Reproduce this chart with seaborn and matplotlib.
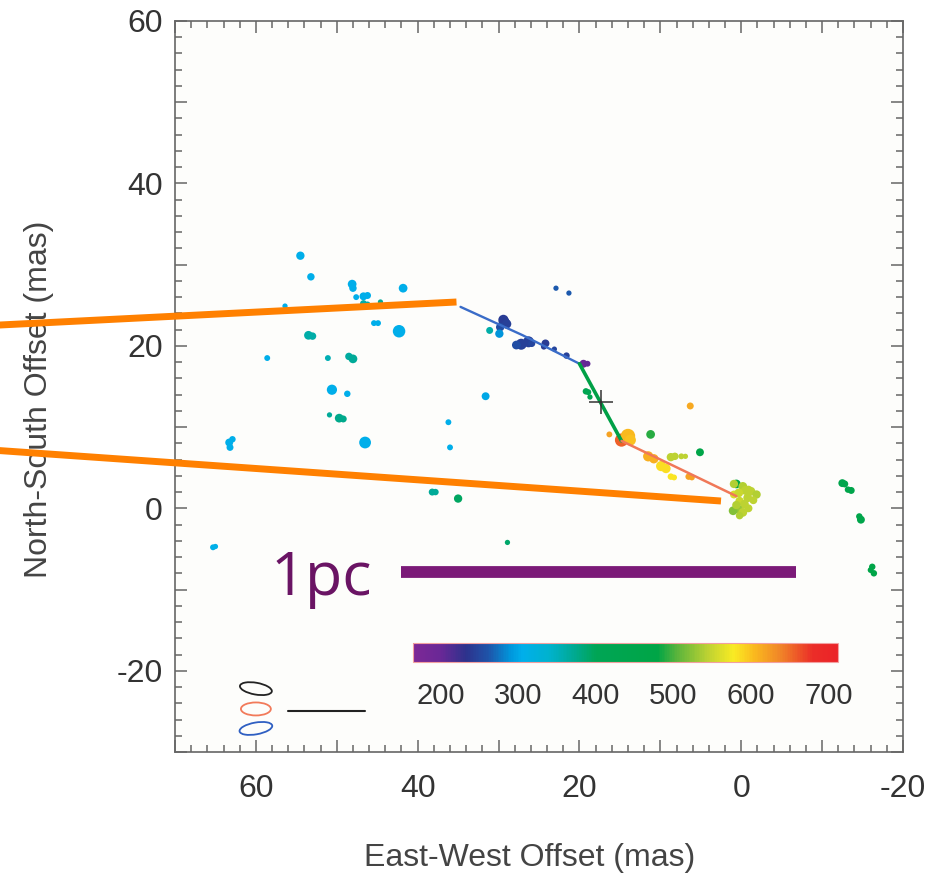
import numpy as np
import pandas as pd
import matplotlib
matplotlib.use("Agg")
import matplotlib.pyplot as plt
import seaborn as sns
from matplotlib.colors import LinearSegmentedColormap, Normalize
from matplotlib.cm import ScalarMappable
from matplotlib.patches import Ellipse
from matplotlib.ticker import MultipleLocator, FuncFormatter

# ---------------- data ----------------
# maser spots: east-west offset (mas), north-south offset (mas), velocity (km/s), marker size
spot_x = [54.5, 53.2, 48.1, 48.0, 47.6, 46.7, 46.2, 46.7, 46.2, 44.6, 41.8, 56.4,
          45.4, 44.9, 42.3, 53.5, 53.0, 58.6, 51.1, 48.5, 48.0, 50.6, 48.7, 50.9,
          49.7, 49.2, 46.5, 63.3, 62.9, 63.2, 31.6, 36.2, 36.0, 38.2, 37.8, 35.0,
          31.1, 65.3, 65.0, 28.9, 22.9, 21.3,
          29.3, 29.4, 29.0, 29.8, 29.9, 27.2, 26.3, 27.8, 25.9, 24.2, 24.4, 23.1,
          21.6, 19.5, 19.0,
          19.2, 18.9, 18.7,
          14.8, 14.0, 13.7, 16.3, 11.2, 6.3, 11.5, 10.8, 9.9, 9.3, 8.7, 8.2, 7.4,
          6.9, 5.1, 8.7, 8.3, 6.5, 6.1,
          0.6, -0.2, -1.2, -1.9, -0.8, 0.2, -0.4, 0.4, 1.0, -0.2, 0.9, 0.9, -0.9,
          -0.5, 0.3, -1.5, 0.6, -0.9, 0.2,
          -12.5, -12.8, -13.6, -13.2, -14.8, -14.6, -16.2, -16.4, -16.0]
spot_y = [31.1, 28.5, 27.6, 27.1, 26.0, 26.1, 26.2, 25.2, 25.1, 25.4, 27.1, 24.9,
          22.8, 22.8, 21.8, 21.3, 21.2, 18.5, 18.5, 18.7, 18.4, 14.6, 14.1, 11.5,
          11.1, 11.0, 8.1, 8.1, 8.5, 7.5, 13.8, 10.6, 7.5, 2.0, 2.0, 1.2,
          21.9, -4.8, -4.7, -4.2, 27.1, 26.5,
          22.9, 23.2, 22.7, 22.3, 21.5, 20.2, 20.5, 20.1, 20.3, 20.3, 19.9, 19.6,
          18.8, 17.8, 17.8,
          14.4, 14.3, 13.7,
          8.4, 8.9, 8.4, 9.1, 9.1, 12.6, 6.4, 6.1, 5.2, 4.9, 6.3, 6.4, 6.4,
          6.4, 6.9, 3.9, 3.8, 3.9, 3.8,
          3.0, 2.7, 2.1, 1.7, 1.3, 0.9, 0.5, -0.1, -0.3, -0.5, 1.7, 3.0, 2.3,
          2.2, 1.9, 1.0, 0.4, 0.0, -0.9,
          3.1, 3.0, 2.2, 2.3, -1.4, -1.0, -7.2, -8.0, -7.6]
spot_v = [305, 305, 305, 305, 305, 305, 305, 360, 360, 370, 305, 305,
          305, 305, 305, 360, 360, 305, 355, 365, 370, 305, 305, 370,
          375, 375, 305, 305, 305, 305, 300, 305, 305, 370, 370, 395,
          360, 310, 310, 390, 265, 265,
          240, 240, 245, 255, 290, 245, 245, 255, 250, 240, 240, 250,
          245, 200, 205,
          420, 420, 425,
          655, 605, 600, 620, 490, 615, 610, 610, 585, 585, 545, 545, 545,
          545, 470, 580, 580, 620, 620,
          480, 540, 545, 540, 545, 550, 545, 530, 520, 545, 560, 540, 545,
          545, 550, 545, 540, 545, 540,
          450, 450, 455, 455, 460, 460, 470, 470, 470]
spot_s = [20, 16, 22, 16, 10, 18, 14, 14, 10, 8, 22, 8,
          10, 10, 45, 22, 16, 10, 10, 16, 22, 30, 12, 8,
          22, 14, 40, 18, 12, 14, 18, 10, 10, 14, 12, 20,
          14, 10, 8, 8, 8, 8,
          35, 30, 25, 20, 20, 35, 35, 22, 15, 18, 10, 8,
          12, 18, 10,
          12, 10, 8,
          50, 60, 35, 10, 22, 14, 30, 25, 30, 25, 20, 16, 10,
          8, 18, 12, 10, 12, 10,
          22, 22, 22, 20, 22, 20, 22, 22, 22, 22, 18, 20, 18,
          22, 22, 18, 20, 18, 16,
          18, 14, 14, 12, 18, 12, 12, 12, 10]

# fitted jet segments
jet_blue_x = [34.7, 27.0, 20.0]
jet_blue_y = [24.8, 21.3, 17.8]
jet_green_x = [20.0, 14.8]
jet_green_y = [17.8, 8.3]
jet_red_x = [14.8, 8.3, 0.6]
jet_red_y = [8.3, 5.2, 1.5]
center_x, center_y = 17.3, 13.1

# orange guide lines
orange1_x = [93.0, 35.2]
orange1_y = [22.5, 25.4]
orange2_x = [93.0, 2.5]
orange2_y = [7.2, 0.9]

# 1 pc scale bar
pc_x = [42.0, -6.8]
pc_y = [-7.9, -7.9]

# beams and beam scale line
beam_x = [60.0, 60.0, 60.0]
beam_y = [-22.2, -24.7, -27.1]
beam_w = [4.0, 3.7, 4.1]
beam_h = [1.45, 1.6, 1.45]
beam_ang = [-10, 0, 10]          # angle as seen on screen
beam_col = ["#222222", "#F27A5A", "#2F5FC2"]
beamline_x = [56.0, 46.5]
beamline_y = [-24.9, -24.9]

# colour scale
cbar_ticks = [200, 300, 400, 500, 600, 700]
v_min, v_max = 165, 712
cmap_vals = [165, 200, 232, 262, 290, 305, 340, 370, 400, 480, 505, 545, 578, 605, 640, 680, 712]
cmap_rgb = [(125, 40, 150), (105, 40, 150), (45, 50, 140), (30, 85, 170), (0, 150, 220),
            (0, 175, 235), (0, 178, 205), (0, 170, 150), (0, 165, 85), (0, 165, 70),
            (90, 180, 60), (190, 210, 50), (250, 235, 35), (250, 185, 30), (240, 130, 40),
            (235, 45, 40), (235, 35, 40)]

# ---------------- style ----------------
sns.set_style("ticks")
plt.rcParams["font.family"] = ["Liberation Sans", "DejaVu Sans"]

cmap = LinearSegmentedColormap.from_list(
    "maser",
    [((v - v_min) / (v_max - v_min), tuple(c / 255 for c in rgb)) for v, rgb in zip(cmap_vals, cmap_rgb)])
norm = Normalize(v_min, v_max)

fig = plt.figure(figsize=(9.38, 8.73), dpi=100)
fig.patch.set_facecolor("white")
ax = fig.add_axes([0.18657, 0.1386, 0.7761, 0.8374])
ax.set_facecolor("#FDFDFB")
ax.set_xlim(70, -20)
ax.set_ylim(-30, 60)

df = pd.DataFrame({"x": spot_x, "y": spot_y, "v": spot_v, "s": spot_s})
sns.scatterplot(data=df, x="x", y="y", hue="v", palette=cmap, hue_norm=norm,
                s=df["s"].values * 1.8, linewidth=0, legend=False, ax=ax, zorder=3)

sns.lineplot(x=jet_blue_x, y=jet_blue_y, sort=False, estimator=None, color="#3A6CC8", lw=1.7, ax=ax, zorder=4)
sns.lineplot(x=jet_green_x, y=jet_green_y, sort=False, estimator=None, color="#00A046", lw=2.6, ax=ax, zorder=4)
sns.lineplot(x=jet_red_x, y=jet_red_y, sort=False, estimator=None, color="#F07858", lw=1.8, ax=ax, zorder=4)
ax.plot(center_x, center_y, marker="+", ms=17, mew=1.1, color="#333333", zorder=5)

for ox, oy in [(orange1_x, orange1_y), (orange2_x, orange2_y)]:
    ax.plot(ox, oy, color="#FF8000", lw=5, solid_capstyle="butt", clip_on=False, zorder=6)

ax.plot(pc_x, pc_y, color="#7B1A78", lw=8.5, solid_capstyle="butt", zorder=6)
ax.text(58.2, -10.7, "1pc", color="#6A1464", fontsize=44, ha="left", va="baseline",
        family=["Open Sans", "DejaVu Sans"], zorder=6)

# beams drawn in axes space so the on-screen tilt is unambiguous
x_span = abs(ax.get_xlim()[1] - ax.get_xlim()[0])
y_span = abs(ax.get_ylim()[1] - ax.get_ylim()[0])
to_axes = ax.transData + ax.transAxes.inverted()
for bx, by, bw, bh, ba, bc in zip(beam_x, beam_y, beam_w, beam_h, beam_ang, beam_col):
    cx, cy = to_axes.transform((bx, by))
    ax.add_patch(Ellipse((cx, cy), bw / x_span, bh / y_span, angle=ba, fill=False,
                         ec=bc, lw=1.3, transform=ax.transAxes, zorder=5))
ax.plot(beamline_x, beamline_y, color="#222222", lw=1.5, zorder=5)

fmt = FuncFormatter(lambda v, p: f"{v:.0f}" if round(v) % 20 == 0 else "")
for axis in (ax.xaxis, ax.yaxis):
    axis.set_major_locator(MultipleLocator(10))
    axis.set_minor_locator(MultipleLocator(2))
    axis.set_major_formatter(fmt)
ax.tick_params(which="both", direction="in", top=True, right=True, color="#666666", width=1.1)
ax.tick_params(which="major", length=8.5)
ax.tick_params(which="minor", length=5)
ax.tick_params(axis="both", labelsize=23, labelcolor="#333333")
ax.tick_params(axis="y", pad=9)
ax.tick_params(axis="x", pad=16)
for sp in ax.spines.values():
    sp.set_color("#666666")
    sp.set_linewidth(1.2)

ax.set_xlabel("East-West Offset (mas)", fontsize=23, color="#444444")
ax.set_ylabel("North-South Offset (mas)", fontsize=23, color="#444444")
ax.xaxis.set_label_coords(0.487, -0.124)
ax.yaxis.set_label_coords(-0.166, 0.483)

# colour bar inside the plot
cax = ax.inset_axes([0.327, 0.123, 0.584, 0.026])
sm = ScalarMappable(norm=norm, cmap=cmap)
cb = fig.colorbar(sm, cax=cax, orientation="horizontal", ticks=cbar_ticks)
cb.outline.set_edgecolor("#F2A0A0")
cb.outline.set_linewidth(0.8)
cax.xaxis.set_minor_locator(MultipleLocator(20))
cax.tick_params(which="both", direction="in", color="#555555", width=1.0)
cax.tick_params(which="major", length=6, labelsize=21, labelcolor="#333333", pad=14)
cax.tick_params(which="minor", length=3)

fig.savefig("out.png", dpi=100)
